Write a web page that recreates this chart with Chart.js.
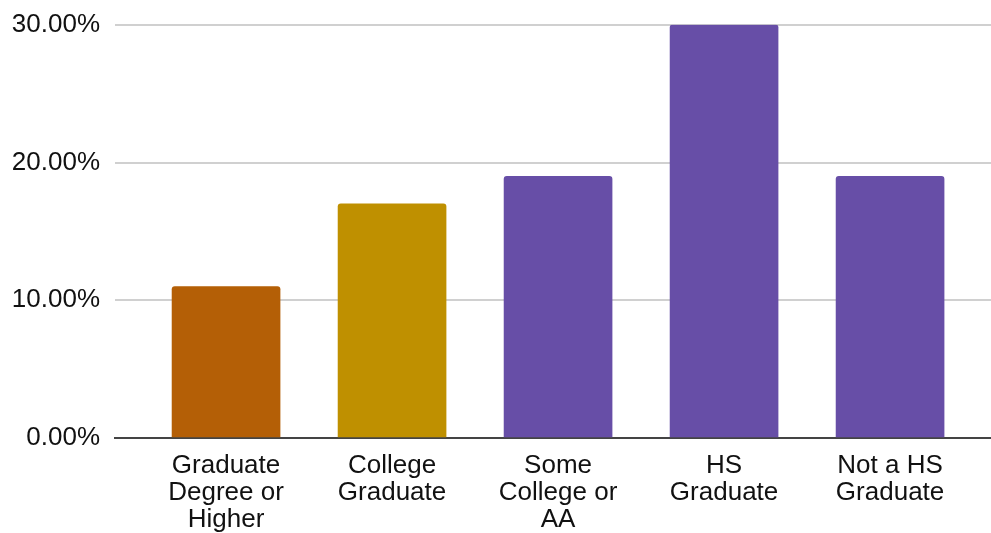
<!DOCTYPE html>
<html lang="en">
<head>
    <meta charset="UTF-8">
    <title>Education Level Share</title>
    <script src="https://cdn.jsdelivr.net/npm/chart.js"></script>
    <style>
        html, body { margin: 0; padding: 0; background: #fff; }
        #wrap { width: 991px; height: 533px; }
    </style>
</head>
<body>
    <div id="wrap">
        <canvas id="eduChart" width="991" height="533"></canvas>
    </div>

    <script>
        // categories (wrapped as drawn under the axis)
        const categories = [
            ['Graduate', 'Degree or', 'Higher'],
            ['College', 'Graduate'],
            ['Some', 'College or', 'AA'],
            ['HS', 'Graduate'],
            ['Not a HS', 'Graduate']
        ];
        // share of respondents, in percent
        const shares = [11, 17, 19, 30, 19];
        const barColors = ['#b45f06', '#bf9000', '#674ea7', '#674ea7', '#674ea7'];
        const yTicks = [0, 10, 20, 30];

        const font = { family: "'Liberation Sans', Arial, sans-serif", size: 26 };

        new Chart(document.getElementById('eduChart'), {
            type: 'bar',
            data: {
                datasets: [{
                    data: shares.map((v, i) => ({ x: i, y: v })),
                    backgroundColor: barColors,
                    borderRadius: 3,
                    borderSkipped: 'bottom',
                    barThickness: 108
                }]
            },
            options: {
                responsive: false,
                animation: false,
                devicePixelRatio: 1,
                layout: { padding: { top: 20, left: 0, right: 0, bottom: 0 } },
                plugins: { legend: { display: false }, tooltip: { enabled: false } },
                scales: {
                    x: {
                        type: 'linear',
                        offset: false,
                        min: -0.669,
                        max: 4.608,
                        grid: { display: false },
                        border: { display: true, color: '#444', width: 2 },
                        afterBuildTicks: s => { s.ticks = categories.map((_, i) => ({ value: i })); },
                        afterFit: s => { s.height = 95; },
                        ticks: {
                            autoSkip: false,
                            maxRotation: 0,
                            padding: 6,
                            color: '#111',
                            font: { ...font, lineHeight: 1.04 },
                            callback: v => categories[v]
                        }
                    },
                    y: {
                        min: 0,
                        max: 30,
                        afterBuildTicks: s => { s.ticks = yTicks.map(v => ({ value: v })); },
                        afterFit: s => { s.width = 115; },
                        grid: {
                            color: ctx => ctx.tick && ctx.tick.value === 0 ? 'rgba(0,0,0,0)' : '#d0d0d0',
                            lineWidth: 2,
                            drawTicks: false
                        },
                        border: { display: false },
                        ticks: {
                            padding: 15,
                            color: '#111',
                            font: { ...font, lineHeight: 0.75 },
                            callback: v => v.toFixed(2) + '%'
                        }
                    }
                }
            }
        });
    </script>
</body>
</html>
